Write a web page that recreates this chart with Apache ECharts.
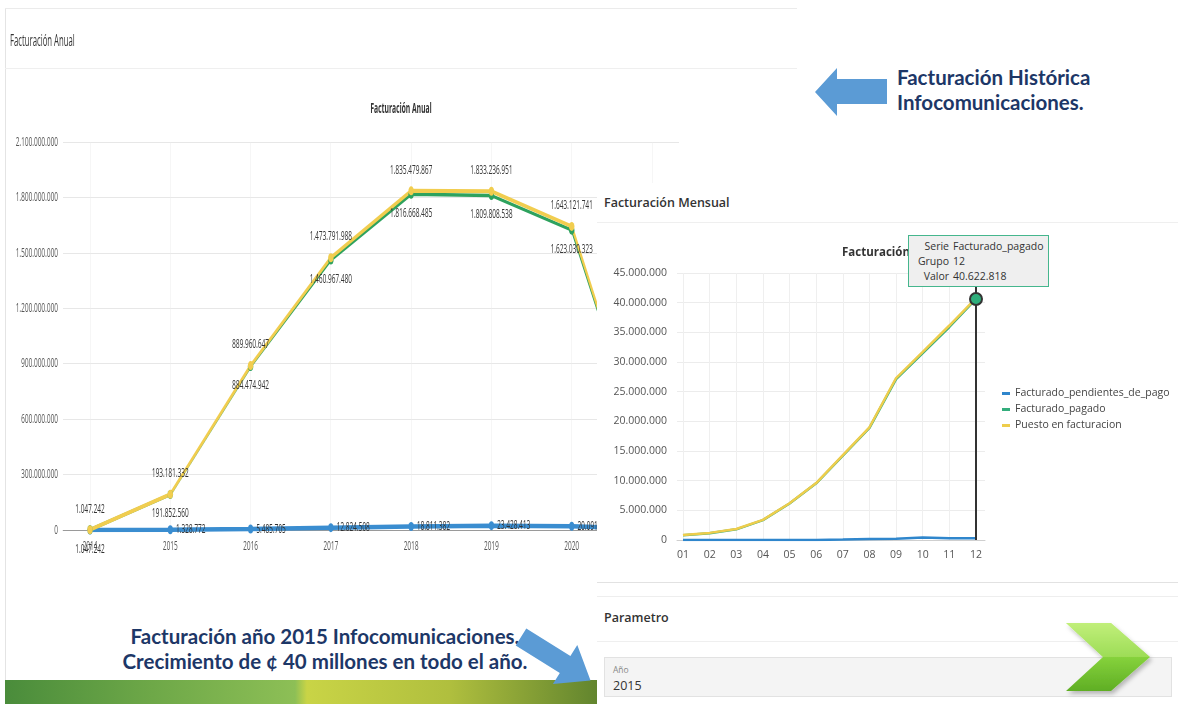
<!DOCTYPE html>
<html><head><meta charset="utf-8">
<script src="https://cdn.jsdelivr.net/npm/echarts@6/dist/echarts.min.js"></script>
<style>
body{margin:0;width:1178px;height:704px;overflow:hidden;background:#fff;font-family:'Open Sans',sans-serif;position:relative}
.abs{position:absolute}
.navy{color:#1d3767;font-family:Lato,'Open Sans',sans-serif;font-weight:700;font-size:20.5px;line-height:25px;white-space:nowrap}
</style></head><body>

<!-- left card (horizontally condensed, like the screenshot) -->
<div class="abs" style="left:5px;top:8px;width:1px;height:672px;background:#e4e4e4"></div>
<div id="leftWrap" class="abs" style="left:5px;top:0;width:1584px;height:572px;transform:scaleX(0.5);transform-origin:0 0;">
  <div class="abs" style="left:0;top:8px;width:1584px;height:1px;background:#ebebeb"></div>
  <div class="abs" style="left:10px;top:30px;font-size:15.5px;color:#333;line-height:20px;white-space:nowrap">Facturación Anual</div>
  <div class="abs" style="left:0;top:68px;width:1584px;height:1px;background:#efefef"></div>
  <div id="chartA" class="abs" style="left:0;top:70px;width:1584px;height:500px"></div>
</div>

<!-- bottom-left annotation -->
<div class="abs navy" style="left:0;top:624px;width:650px;text-align:center">Facturación año 2015 Infocomunicaciones.<br>Crecimiento de ¢ 40 millones en todo el año.</div>
<div class="abs" style="left:5px;top:680px;width:592px;height:24px;background:linear-gradient(90deg,#4a8c3b 0%,#6ea848 25%,#8dbf56 49%,#c9d446 51%,#b0bf3e 75%,#62852e 100%)"></div>

<!-- top-right annotation -->
<div class="abs navy" style="left:897px;top:65px">Facturación Histórica<br>Infocomunicaciones.</div>

<!-- right panel -->
<div class="abs" style="left:597px;top:183px;width:581px;height:521px;background:#fff"></div>
<div class="abs" style="left:604px;top:194px;font-size:12.5px;font-weight:600;color:#333;line-height:18px;white-space:nowrap">Facturación Mensual</div>
<div class="abs" style="left:597px;top:222px;width:581px;height:1px;background:#efefef"></div>
<div id="chartB" class="abs" style="left:597px;top:225px;width:581px;height:355px"></div>
<div id="tip" class="abs" style="left:908px;top:235px;width:141px;height:52px;background:#efefef;border:1.5px solid #45b68d;box-sizing:border-box;font-size:10.5px;color:#333;line-height:15px;padding-top:3px"></div>

<div class="abs" style="left:597px;top:582px;width:581px;height:1px;background:#e2e2e2"></div>
<div class="abs" style="left:597px;top:596px;width:581px;height:1px;background:#eeeeee"></div>
<div class="abs" style="left:604px;top:609px;font-size:12.5px;font-weight:600;color:#333;line-height:18px">Parametro</div>
<div class="abs" style="left:597px;top:641px;width:581px;height:1px;background:#efefef"></div>
<div class="abs" style="left:604px;top:657px;width:568px;height:40px;background:#f4f4f4;border:1px solid #e2e2e2;box-sizing:border-box"></div>
<div class="abs" style="left:613px;top:664px;font-size:8.5px;color:#888;line-height:12px">Año</div>
<div class="abs" style="left:613px;top:677px;font-size:12.5px;color:#333;line-height:18px">2015</div>

<!-- arrows and chevron -->
<svg class="abs" style="left:0;top:0;pointer-events:none" width="1178" height="704">
  <defs>
    <linearGradient id="cg" x1="0" y1="0" x2="0" y2="1">
      <stop offset="0" stop-color="#bdee72"/>
      <stop offset="0.5" stop-color="#86d23c"/>
      <stop offset="1" stop-color="#5fae24"/>
    </linearGradient>
    <filter id="sh" x="-20%" y="-20%" width="140%" height="140%">
      <feDropShadow dx="2" dy="3" stdDeviation="2" flood-color="#000" flood-opacity="0.25"/>
    </filter>
  </defs>
  <polygon points="815,92 837,68 837,79 887,79 887,104 837,104 837,116" fill="#5b9bd5"/>
  <g transform="translate(521,637) rotate(32)">
    <polygon points="0,-10 52,-10 52,-23 82,0 52,23 52,10 0,10" fill="#5b9bd5"/>
  </g>
  <g filter="url(#sh)">
    <polygon points="1066,623 1111,623 1150,657 1111,691 1066,691 1103,657" fill="url(#cg)"/>
    <polygon points="1066,623 1111,623 1150,657 1103,657" fill="#c8f28a" opacity="0.35"/>
  </g>
</svg>

<script>
// ---------- data ----------
const years = ['2014','2015','2016','2017','2018','2019','2020','2021'];
const annualNames = ['Facturado_pendientes_de_pago','Facturado_pagado','Puesto en facturacion'];
const annualPendientes = [0, 1328772, 5485705, 12824508, 18811382, 23428413, 20091000, 5000000];
const annualPagado = [1047242, 191852560, 884474942, 1460967480, 1816668485, 1809808538, 1623030323, 280000000];
const annualPuesto = [1047242, 193181332, 889960647, 1473791988, 1835479867, 1833236951, 1643121741, 285000000];

const months = ['01','02','03','04','05','06','07','08','09','10','11','12'];
const monthNames = ['Facturado_pendientes_de_pago','Facturado_pagado','Puesto en facturacion'];
const monthPendientes = [0, 0, 0, 0, 0, 20000, 80000, 150000, 220000, 420000, 300000, 280000];
const monthPagado = [800000, 1150000, 1800000, 3350000, 6150000, 9550000, 14200000, 18900000, 27100000, 31500000, 35900000, 40622818];
const monthPuesto = [840000, 1200000, 1850000, 3400000, 6200000, 9600000, 14300000, 19000000, 27300000, 31700000, 36150000, 40750000];

const colBlue = '#3a8dd0', colGreen = '#2ea25e', colYellow = '#f1cd4f';

function fmt(v){ return String(Math.round(v)).replace(/\B(?=(\d{3})+(?!\d))/g,'.'); }

// ---------- annual chart (drawn in a 2x wide space, squeezed by CSS) ----------
const chartA = echarts.init(document.getElementById('chartA'), null, {renderer:'canvas'});
const lblBase = {fontSize:13, color:'#333', fontFamily:'Open Sans'};
chartA.setOption({
  animation:false,
  textStyle:{fontFamily:'Open Sans'},
  title:{text:'Facturación Anual', left:'center', top:27, textStyle:{fontSize:13.5, fontWeight:'bold', color:'#333'}},
  grid:[
    {left:116, top:72, width:1232, height:388},
    {left:170, top:72, width:1124, height:388}
  ],
  xAxis:[
    {gridIndex:0, type:'category', data:years, boundaryGap:false,
     axisLine:{show:true, lineStyle:{color:'#9a9a9a', width:1}}, axisTick:{show:false}, axisLabel:{show:false}, splitLine:{show:false}},
    {gridIndex:1, type:'category', data:years, boundaryGap:false,
     axisLine:{show:false}, axisTick:{show:false},
     axisLabel:{color:'#555', fontSize:13, margin:10},
     splitLine:{show:true, lineStyle:{color:'#ececec'}}}
  ],
  yAxis:[
    {gridIndex:0, type:'value', min:0, max:2100000000, interval:300000000,
     axisLine:{show:false}, axisTick:{show:false},
     axisLabel:{formatter:fmt, color:'#555', fontSize:13, margin:10},
     splitLine:{show:true, lineStyle:{color:'#e7e7e7'}}},
    {gridIndex:1, type:'value', min:0, max:2100000000, interval:300000000, show:false, splitLine:{show:false}}
  ],
  series:[
    {name:annualNames[0], type:'line', xAxisIndex:1, yAxisIndex:1, data:annualPendientes,
     lineStyle:{color:colBlue, width:4.5}, itemStyle:{color:colBlue}, symbol:'circle', symbolSize:[11,9],
     label:Object.assign({show:true, position:'right', distance:6, formatter:p=>p.value? fmt(p.value):''}, lblBase)},
    {name:annualNames[1], type:'line', xAxisIndex:1, yAxisIndex:1, data:annualPagado,
     lineStyle:{color:colGreen, width:3.5}, itemStyle:{color:colGreen}, symbol:'circle', symbolSize:[11,9],
     label:Object.assign({show:true, position:'bottom', distance:8, formatter:p=>fmt(p.value)}, lblBase)},
    {name:annualNames[2], type:'line', xAxisIndex:1, yAxisIndex:1, data:annualPuesto,
     lineStyle:{color:colYellow, width:4}, itemStyle:{color:colYellow}, symbol:'circle', symbolSize:[11,9],
     label:Object.assign({show:true, position:'top', distance:10, formatter:p=>fmt(p.value)}, lblBase)}
  ]
});

// ---------- monthly chart ----------
const chartB = echarts.init(document.getElementById('chartB'), null, {renderer:'canvas'});
const hi = months.length - 1;
chartB.setOption({
  animation:false,
  textStyle:{fontFamily:'Open Sans'},
  title:{text:'Facturación Mensual', left:240, top:17, textStyle:{fontSize:11.5, fontWeight:'bold', color:'#333'}},
  legend:{orient:'vertical', left:400, top:158, itemWidth:8, itemHeight:3, itemGap:5, icon:'rect',
          textStyle:{fontSize:10.5, color:'#444'}, data:monthNames},
  grid:[
    {left:80, top:48, width:308, height:267},
    {left:86, top:48, width:293, height:267}
  ],
  xAxis:[
    {gridIndex:0, type:'category', data:months, boundaryGap:false,
     axisLine:{show:true, lineStyle:{color:'#cfcfcf'}}, axisTick:{show:false}, axisLabel:{show:false}, splitLine:{show:false}},
    {gridIndex:1, type:'category', data:months, boundaryGap:false,
     axisLine:{show:false}, axisTick:{show:false},
     axisLabel:{color:'#555', fontSize:10.5, margin:10},
     splitLine:{show:true, lineStyle:{color:'#efefef'}}}
  ],
  yAxis:[
    {gridIndex:0, type:'value', min:0, max:45000000, interval:5000000,
     axisLine:{show:false}, axisTick:{show:false},
     axisLabel:{formatter:fmt, color:'#555', fontSize:10.5, margin:10},
     splitLine:{show:true, lineStyle:{color:'#ececec'}}},
    {gridIndex:1, type:'value', min:0, max:45000000, interval:5000000, show:false, splitLine:{show:false}}
  ],
  series:[
    {name:monthNames[0], type:'line', xAxisIndex:1, yAxisIndex:1, data:monthPendientes, symbol:'none',
     lineStyle:{color:'#2f86cc', width:2.5}, itemStyle:{color:'#2f86cc'}, z:2},
    {name:monthNames[1], type:'line', xAxisIndex:1, yAxisIndex:1, symbol:'none', data:monthPagado,
     lineStyle:{color:'#33ad7c', width:2.5}, itemStyle:{color:'#33ad7c'}, z:2,
     markLine:{silent:true, z:8, symbol:'none', label:{show:false}, lineStyle:{color:'#333', width:2, type:'solid'},
               data:[{xAxis:months[hi]}]},
     markPoint:{silent:true, z:10, symbol:'circle', symbolSize:12, label:{show:false},
               itemStyle:{color:'#2fae7b', borderColor:'#333', borderWidth:2},
               data:[{coord:[months[hi], monthPagado[hi]]}]}},
    {name:monthNames[2], type:'line', xAxisIndex:1, yAxisIndex:1, data:monthPuesto, symbol:'none',
     lineStyle:{color:'#eecd4c', width:2.5}, itemStyle:{color:'#eecd4c'}, z:3}
  ]
});

// tooltip-like box content built from the data
const rows = [['Serie', monthNames[1]], ['Grupo', months[hi]], ['Valor', fmt(monthPagado[hi])]];
document.getElementById('tip').innerHTML = rows.map(r =>
  '<div style="display:flex;white-space:nowrap"><span style="width:40px;text-align:right;padding-right:4px">'+r[0]+'</span><span>'+r[1]+'</span></div>').join('');
</script>
</body></html>
